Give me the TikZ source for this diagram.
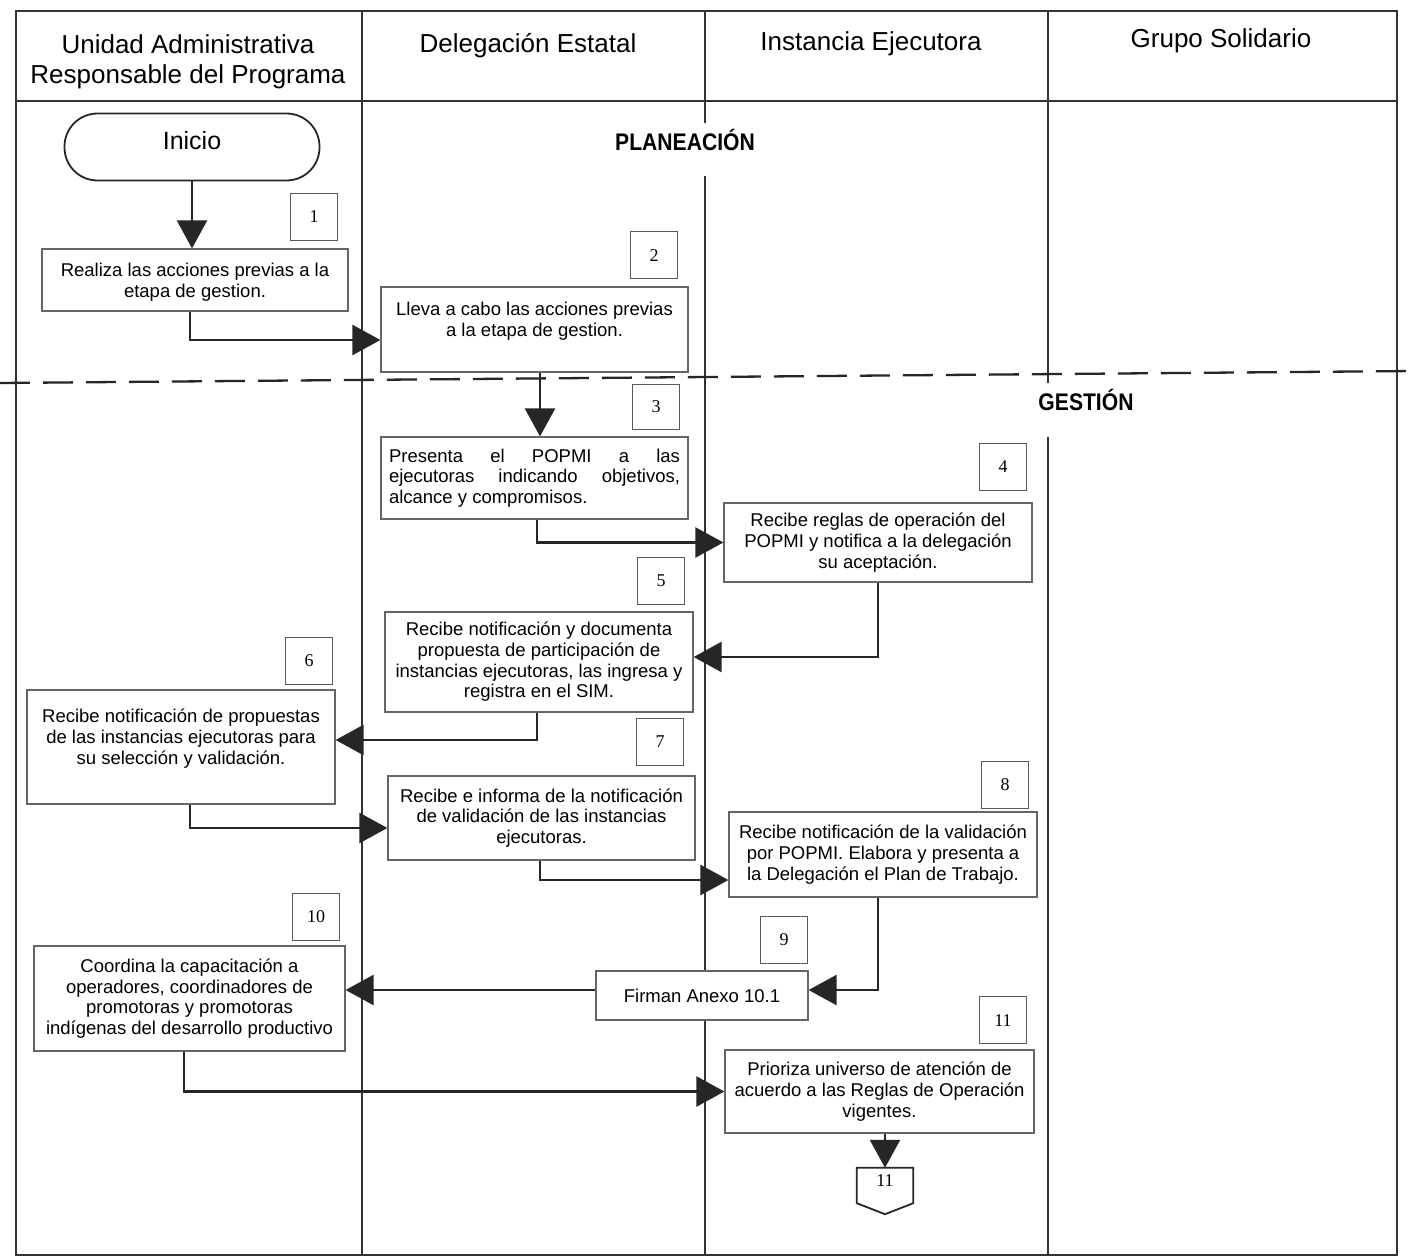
\documentclass[tikz,border=0pt]{standalone}
\usepackage{fontspec}
\setmainfont{Liberation Sans}
\newfontfamily\numfont{Liberation Serif}
\usepackage{graphicx}
\usetikzlibrary{arrows.meta}
\begin{document}
\begin{tikzpicture}[x=1pt,y=-1pt,
  frame/.style={line width=1.8pt, draw=black!80},
  proc/.style={draw=black!60, line width=1.2pt, fill=white, align=center, inner sep=0pt,
    font=\fontsize{18.5}{20.7}\selectfont},
  numbox/.style={draw=black!65, line width=1.1pt, fill=white, minimum width=47pt,
    minimum height=47pt, inner sep=0pt, anchor=north west, font=\numfont\fontsize{18}{20}\selectfont},
  conn/.style={line width=2.4pt, draw=black!85, -{Triangle[length=28pt,width=30pt]}},
  hdr/.style={font=\fontsize{26}{30}\selectfont, align=center},
  phase/.style={font=\bfseries\fontsize{24}{28}\selectfont, inner sep=0pt}
]
\useasboundingbox (0,0) rectangle (1414,1260);
\fill[white] (0,0) rectangle (1414,1260);

% lanes
\draw[frame] (16,11) rectangle (1397,1255);
\draw[frame] (16,101) -- (1397,101);
\draw[frame] (362,11) -- (362,1255);
\draw[frame] (705,11) -- (705,123);
\draw[frame] (705,176) -- (705,1255);
\draw[frame] (1048,11) -- (1048,383);
\draw[frame] (1048,437) -- (1048,1255);
\draw[line width=2.3pt, draw=black!85, dash pattern=on 30pt off 13pt] (0,383) -- (1414,371);

% headers
\node[hdr] (h1) at (188,62) {Unidad Administrativa\\Responsable del Programa};
\node[hdr,anchor=base] (h2) at (528,53) {Delegación Estatal};
\node[hdr,anchor=base] (h3) at (871,51) {Instancia Ejecutora};
\node[hdr,anchor=base] (h4) at (1221,48) {Grupo Solidario};

% phases
\node[phase] (pl) at (685,140) {\scalebox{0.88}[1]{PLANEACIÓN}};
\node[phase] (ge) at (1086,400) {\scalebox{0.88}[1]{GESTIÓN}};

% start
\node[draw=black!85, line width=1.8pt, rounded corners=33pt, minimum width=255pt,
  minimum height=67pt, inner sep=0pt, font=\fontsize{25}{28}\selectfont] (ini) at (192,147)
  {\raisebox{14pt}{Inicio}};

% process boxes
\node[proc, minimum width=306pt, minimum height=62pt] (b1) at (195,280)
  {\\[-3pt]Realiza las acciones previas a la\\etapa de gestion.};
\node[proc, minimum width=307pt, minimum height=85pt] (b2) at (534.5,329.5)
  {Lleva a cabo las acciones previas\\a la etapa de gestion.\\\mbox{}};
\node[proc, minimum width=307pt, minimum height=82pt, align=left] (b3) at (534.5,478)
  {\makebox[291pt][s]{Presenta el POPMI a las}\\\makebox[291pt][s]{ejecutoras indicando objetivos,}\\alcance y compromisos.};
\node[proc, minimum width=308pt, minimum height=79pt] (b4) at (878,542.5)
  {Recibe reglas de operación del\\POPMI y notifica a la delegación\\su aceptación.};
\node[proc, minimum width=308pt, minimum height=100pt] (b5) at (539,662)
  {Recibe notificación y documenta\\propuesta de participación de\\instancias ejecutoras, las ingresa y\\registra en el SIM.};
\node[proc, minimum width=308pt, minimum height=114pt] (b6) at (181,747)
  {Recibe notificación de propuestas\\de las instancias ejecutoras para\\su selección y validación.\\\mbox{}};
\node[proc, minimum width=307pt, minimum height=84pt] (b7) at (541.5,818)
  {Recibe e informa de la notificación\\de validación de las instancias\\ejecutoras.};
\node[proc, minimum width=308pt, minimum height=85pt] (b8) at (883,854.5)
  {Recibe notificación de la validación\\por POPMI. Elabora y presenta a\\la Delegación el Plan de Trabajo.};
\node[proc, minimum width=212pt, minimum height=49pt] (b9) at (702,995.5)
  {Firman Anexo 10.1};
\node[proc, minimum width=311pt, minimum height=105pt] (b10) at (189.5,998.5)
  {Coordina la capacitación a\\operadores, coordinadores de\\promotoras y promotoras\\indígenas del desarrollo productivo};
\node[proc, minimum width=309pt, minimum height=83pt] (b11) at (879.5,1091.5)
  {Prioriza universo de atención de\\acuerdo a las Reglas de Operación\\vigentes.};

% step numbers
\node[numbox] (n1) at (290,193) {1};
\node[numbox] (n2) at (630,231) {2};
\node[numbox, minimum height=45pt] (n3) at (632,384) {3};
\node[numbox] (n4) at (979,443) {4};
\node[numbox] (n5) at (637,557) {5};
\node[numbox] (n6) at (285,637) {6};
\node[numbox] (n7) at (636,718) {7};
\node[numbox] (n8) at (981,761) {8};
\node[numbox] (n9) at (760,916) {9};
\node[numbox] (n10) at (292,893) {10};
\node[numbox] (n11) at (979,996) {11};

% off-page connector
\node[minimum width=56pt, minimum height=46pt, inner sep=0pt] (off) at (885,1191) {};
\draw[line width=1.8pt, draw=black!85, fill=white] (off.north west) -- (off.north east)
  -- ([yshift=11pt]off.south east) -- (off.south) -- ([yshift=11pt]off.south west) -- cycle;
\node[font=\numfont\fontsize{18}{20}\selectfont, inner sep=0pt] (offt) at (885,1181) {11};

% connectors
\draw[conn] (ini.south) -- (ini.south |- b1.north);
\draw[conn] ([xshift=-5pt]b1.south) |- ([yshift=-10.5pt]b2.west);
\draw[conn] ([xshift=5.5pt]b2.south) -- ([xshift=5.5pt]b2.south |- b3.north);
\draw[conn] ([xshift=2.5pt]b3.south) |- (b4.west);
\draw[conn] (b4.south) |- ([yshift=5pt]b5.east);
\draw[conn] ([xshift=-2pt]b5.south) |- ([yshift=7pt]b6.east);
\draw[conn] ([xshift=9pt]b6.south) |- ([yshift=-10pt]b7.west);
\draw[conn] ([xshift=-1.5pt]b7.south) |- ([yshift=-25.5pt]b8.west);
\draw[conn] ([xshift=-5pt]b8.south) |- ([yshift=5.5pt]b9.east);
\draw[conn] ([yshift=5.5pt]b9.west) -- ([yshift=5.5pt]b9.west -| b10.east);
\draw[conn] ([xshift=-5.5pt]b10.south) |- (b11.west);
\draw[conn] (b11.south -| off.north) -- (off.north);
\end{tikzpicture}
\end{document}
